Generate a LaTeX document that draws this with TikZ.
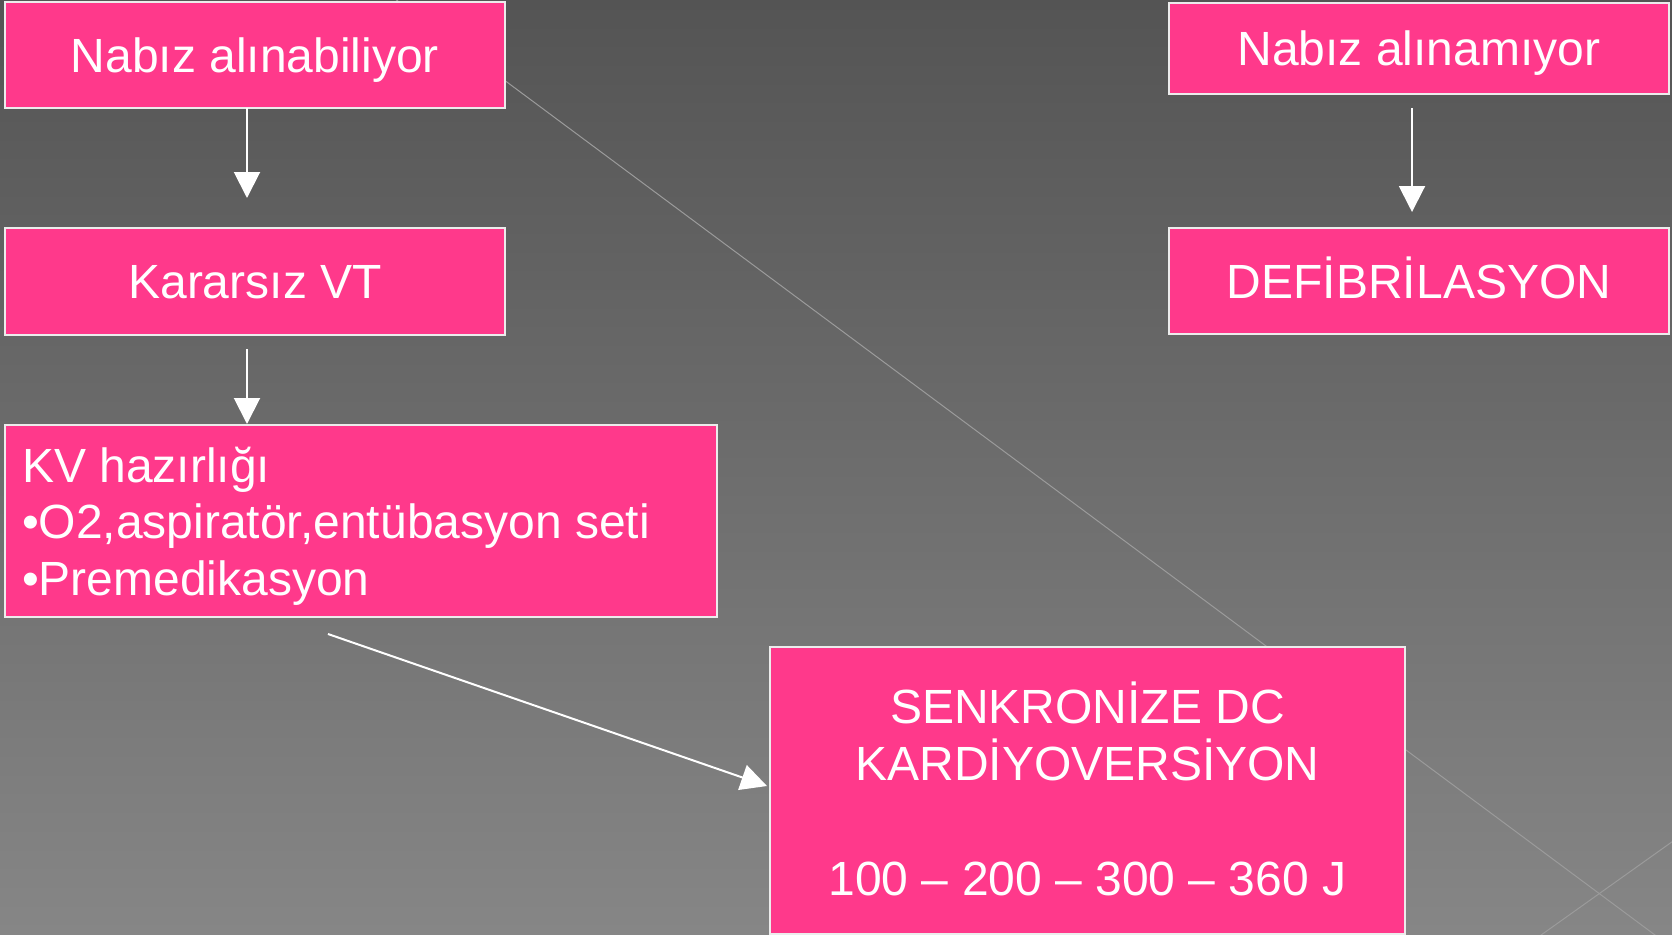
\documentclass[tikz,border=0pt]{standalone}
\usepackage{fontspec}
\setmainfont{Liberation Sans}
\usetikzlibrary{arrows.meta}
\definecolor{pinkbox}{RGB}{255,57,139}
\definecolor{bgtop}{RGB}{84,84,84}
\definecolor{bgbot}{RGB}{134,134,134}
\definecolor{deco}{RGB}{155,155,155}
\definecolor{edge}{RGB}{236,236,236}
\begin{document}
\begin{tikzpicture}[x=1pt,y=-1pt,
  box/.style={draw=edge, line width=1.5pt, fill=pinkbox, inner sep=0pt, outer sep=0pt,
    text=white, font=\fontsize{48}{57}\selectfont, text height=34.4pt, text depth=0pt},
  txt/.style={text=white, font=\fontsize{48}{57}\selectfont, inner sep=0pt, outer sep=0pt},
  arr/.style={draw=white, line width=2pt, -{Triangle[width=26pt,length=26pt]}},
  decoline/.style={draw=deco, line width=1pt}]
\shade[top color=bgtop, bottom color=bgbot] (0,0) rectangle (1672,934);
\useasboundingbox (0,0) rectangle (1672,934);
\begin{scope}
  \clip (0,0) rectangle (1672,934);
  \draw[decoline] (383,-10) -- (1690,961);
  \draw[decoline] (1520,950) -- (1690,829);
\end{scope}
% boxes
\node[box, minimum width=500pt, minimum height=106pt] (b1) at (255,55) {Nabız alınabiliyor};
\node[box, minimum width=500pt, minimum height=107pt] (b2) at (255,281.5) {Kararsız VT};
\node[box, minimum width=712pt, minimum height=192pt] (b3) at (361,521) {};
\node[box, minimum width=635pt, minimum height=287pt] (b4) at (1087.5,790.5) {};
\node[box, minimum width=500pt, minimum height=91pt] (b5) at (1419,48.5) {Nabız alınamıyor};
\node[box, minimum width=500pt, minimum height=106pt] (b6) at (1419,281) {DEFİBRİLASYON};
% multi-line texts
\node[txt, anchor=base west] (t3a) at (22,482) {KV hazırlığı};
\node[txt, anchor=base west] (t3b) at (22,538) {•O2,aspiratör,entübasyon seti};
\node[txt, anchor=base west] (t3c) at (22,595) {•Premedikasyon};
\node[txt, anchor=base] (t4a) at (1087.5,723) {SENKRONİZE DC};
\node[txt, anchor=base] (t4b) at (1087.5,780) {KARDİYOVERSİYON};
\node[txt, anchor=base] (t4c) at (1087.5,895) {100 – 200 – 300 – 360 J};
% connectors
\coordinate (d1) at (328,634);
\draw[arr, shorten >=30pt] ([xshift=-8pt]b1.south) -- ([xshift=-8pt]b2.north);
\draw[arr, shorten <=14pt, shorten >=1pt] ([xshift=-8pt]b2.south) -- ([xshift=-8pt] b2.south |- b3.north);
\draw[arr, shorten <=14pt, shorten >=16pt] ([xshift=-7pt]b5.south) -- ([xshift=-7pt]b6.north);
\draw[arr] (d1) -- ([xshift=-3pt,yshift=4.5pt]b4.west);
\end{tikzpicture}
\end{document}
